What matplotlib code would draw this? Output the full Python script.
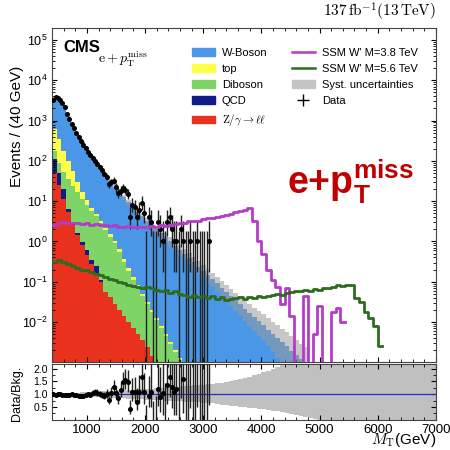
import numpy as np
import matplotlib.pyplot as plt
from matplotlib.patches import Patch
from matplotlib.lines import Line2D

plt.rcParams['font.family'] = 'Liberation Sans'
plt.rcParams['mathtext.fontset'] = 'custom'
plt.rcParams['mathtext.rm'] = 'Liberation Sans'
plt.rcParams['mathtext.it'] = 'Liberation Sans:italic'
plt.rcParams['mathtext.bf'] = 'Liberation Sans:bold'

nan = np.nan

# stacked backgrounds, log10(events / 40 GeV) at the top of each layer, 80 GeV bins from 400 GeV
bkg_start = 400
bkg_step = 80
stack_zll = [1.70, 1.40, 1.05, 0.72, 0.42, 0.16, -0.10, -0.33, -0.56, -0.78, -1.00, -1.20, -1.38, -1.55,
             -1.71, -1.86, -2.00, -2.15, -2.30, -2.45, -2.62, -2.85, -3.10]
stack_qcd = [2.05, 1.70, 1.30, 0.80, 0.45, 0.20, -0.02, -0.22, -0.45, -0.62, -0.95, -1.25, -1.38, -1.55,
             -1.71, -1.86, -2.00, -2.15, -2.30, -2.45, -2.62, -2.85, -3.10]
stack_diboson = [2.25, 1.95, 1.72, 1.55, 1.38, 1.22, 1.05, 0.90, 0.76, 0.62, 0.45, 0.28, 0.12, -0.05,
                 -0.25, -0.50, -0.73, -0.95, -1.15, -1.35, -1.55, -1.75, -1.95, -2.15, -2.35, -2.55,
                 -2.75, -2.95, -3.10]
stack_top = [2.80, 2.55, 2.25, 2.00, 1.75, 1.47, 1.23, 1.02, 0.84, 0.68, 0.51, 0.34, 0.18, 0.01,
             -0.19, -0.44, -0.67, -0.89, -1.09, -1.30, -1.50, -1.70, -1.90, -2.10, -2.30, -2.50,
             -2.70, -2.90, -3.10]
stack_wboson = [3.56, 3.55, 3.36, 3.10, 2.86, 2.65, 2.46, 2.28, 2.11, 1.96, 1.80, 1.64, 1.50, 1.36,
                1.23, 1.10, 0.97, 0.85, 0.73, 0.62, 0.51, 0.40, 0.30, 0.20, 0.10, 0.00, -0.11, -0.21,
                -0.32, -0.42, -0.52, -0.63, -0.73, -0.84, -0.94, -1.04, -1.15, -1.25, -1.36, -1.46,
                -1.56, -1.67, -1.77, -1.88, -1.98, -2.08, -2.19, -2.29, -2.40, -2.50, -2.60, -2.71,
                -2.81, -2.92, -3.02]

# relative systematic uncertainty (up / down), 80 GeV bins from 400 to 7040 GeV
syst_up = [0.04, 0.04, 0.05, 0.05, 0.06, 0.06, 0.07, 0.08, 0.09, 0.10, 0.11, 0.12, 0.13, 0.14,
           0.15, 0.16, 0.17, 0.18, 0.19, 0.20, 0.21, 0.22, 0.23, 0.24, 0.26, 0.27, 0.29, 0.30,
           0.32, 0.33, 0.35, 0.37, 0.38, 0.40, 0.42, 0.44, 0.46, 0.49, 0.52, 0.55, 0.59, 0.63,
           0.68, 0.74, 0.80, 0.86, 0.93, 1.00, 1.07, 1.14, 1.21, 1.28, 1.35, 1.42, 1.50, 1.50,
           1.50, 1.50, 1.50, 1.50, 1.50, 1.50, 1.50, 1.50, 1.50, 1.50, 1.50, 1.50, 1.50, 1.50,
           1.50, 1.50, 1.50, 1.50, 1.50, 1.50, 1.50, 1.50, 1.50, 1.50, 1.50, 1.50, 1.50]
syst_dn = [0.04, 0.04, 0.05, 0.05, 0.06, 0.06, 0.07, 0.08, 0.09, 0.10, 0.11, 0.12, 0.13, 0.14,
           0.15, 0.16, 0.17, 0.18, 0.19, 0.20, 0.21, 0.22, 0.23, 0.24, 0.25, 0.26, 0.27, 0.28,
           0.29, 0.30, 0.31, 0.32, 0.33, 0.34, 0.36, 0.38, 0.40, 0.42, 0.44, 0.46, 0.48, 0.50,
           0.52, 0.54, 0.56, 0.58, 0.61, 0.64, 0.67, 0.70, 0.73, 0.77, 0.81, 0.85, 0.89, 0.93,
           0.97, 1.00, 1.00, 1.00, 1.00, 1.00, 1.00, 1.00, 1.00, 1.00, 1.00, 1.00, 1.00, 1.00,
           1.00, 1.00, 1.00, 1.00, 1.00, 1.00, 1.00, 1.00, 1.00, 1.00, 1.00, 1.00, 1.00]

# signals, log10(events / 40 GeV), 80 GeV bins from 400 GeV (nan = empty bin)
sig_38 = [0.42, 0.46, 0.48, 0.47, 0.45, 0.47, 0.44, 0.45, 0.42, 0.43, 0.40, 0.41, 0.38, 0.40,
          0.37, 0.36, 0.38, 0.35, 0.37, 0.36, 0.35, 0.38, 0.37, 0.40, 0.39, 0.42, 0.44, 0.47,
          0.46, 0.50, 0.52, 0.51, 0.55, 0.58, 0.57, 0.61, 0.63, 0.66, 0.68, 0.72, 0.75, 0.79,
          0.82, 0.50, 0.00, -0.30, -0.70, -0.95, -1.12, -1.55, -1.15, -1.85, nan, nan, -1.35,
          nan, -2.30, -1.60, nan, nan, -1.75, -1.65, -2.00]
sig_56 = [-0.50, -0.47, -0.52, -0.57, -0.60, -0.65, -0.70, -0.72, -0.76, -0.80, -0.84, -0.88,
          -0.92, -0.96, -1.00, -1.04, -1.08, -1.10, -1.13, -1.15, -1.14, -1.16, -1.20, -1.22,
          -1.20, -1.27, -1.24, -1.30, -1.33, -1.37, -1.34, -1.38, -1.35, -1.40, -1.36, -1.42,
          -1.38, -1.45, -1.43, -1.40, -1.38, -1.42, -1.37, -1.40, -1.36, -1.39, -1.35, -1.33,
          -1.30, -1.32, -1.28, -1.25, -1.22, -1.24, -1.20, -1.22, -1.18, -1.20, -1.15, -1.16,
          -1.12, -1.09, -1.10, -1.08, -1.09, -1.40, -1.50, -1.75, -1.90, -2.10, -2.60]

# data: events per 40 GeV bin from 400 GeV, and data / background
data_start = 400
data_step = 40
data_counts = [3300, 3800, 3600, 3300, 2750, 2150, 1500, 1100, 830, 650, 500, 400, 315, 255,
               210, 170, 138, 118, 100, 85, 69, 59, 48, 40, 26, 30, 32, 22, 16, 18,
               21, 19, 15, 4, 8, 7, 4, 6, 9, 5, 0, 4, 3, 0, 0, 3, 2, 1, 0, 3,
               4, 2, 1, 1, 0, 2, 1, 0, 0, 1, 0, 0, 1, 0, 0, 0, 0, 1]
data_ratio = [1.00, 0.98, 1.00, 1.01, 0.99, 0.98, 0.97, 0.99, 1.00, 0.98, 0.96, 0.93, 0.92, 0.95,
              0.97, 1.02, 0.98, 1.05, 1.08, 1.06, 1.00, 0.96, 0.94, 1.02, 0.76, 1.05, 1.28, 1.05,
              0.84, 1.15, 1.48, 1.55, 1.48, 0.44, 1.10, 1.10, 0.70, 1.10, 1.68, 1.10, nan, 0.95,
              1.10, nan, nan, 1.20, 0.90, 1.05, nan, 1.35, 1.68, 1.30, 1.10, 1.20, nan, 2.40,
              1.60, nan, nan, 2.60, nan, nan, 3.00, nan, nan, nan, nan, 3.50]

c_w, c_top, c_vv, c_qcd, c_zll = '#4a97e8', '#ffff4a', '#7fd467', '#101c88', '#e8321e'
c_s38, c_s56 = '#b43cc8', '#2e6b1e'


def to_lin(vals, nb):
    out = np.full(nb, 1e-9)
    arr = 10.0 ** np.array(vals, dtype=float)
    arr[np.isnan(arr)] = 1e-9
    out[:len(arr)] = arr
    return out


def garwood(n):
    n = np.asarray(n, dtype=float)
    up = (n + 1) * (1 - 1 / (9 * (n + 1)) + 1 / (3 * np.sqrt(n + 1))) ** 3
    safe = np.where(n > 0, n, 1)
    lo = np.where(n > 0, safe * (1 - 1 / (9 * safe) - 1 / (3 * np.sqrt(safe))) ** 3, 0)
    return lo, up


fig = plt.figure(figsize=(4.5, 4.5), dpi=100)
ax = fig.add_axes([0.1156, 0.196, 0.853, 0.742])
rax = fig.add_axes([0.1156, 0.067, 0.853, 0.125])

nb = len(stack_wboson)
edges = bkg_start + bkg_step * np.arange(nb + 1)
layers = [(stack_zll, c_zll), (stack_qcd, c_qcd), (stack_diboson, c_vv),
          (stack_top, c_top), (stack_wboson, c_w)]
prev = np.full(nb, 1e-9)
for vals, col in layers:
    cur = to_lin(vals, nb)
    ax.fill_between(edges, np.append(prev, prev[-1]), np.append(cur, cur[-1]),
                    step='post', color=col, lw=0, zorder=1)
    prev = cur
total = prev
su = np.array(syst_up[:nb])
sd = np.array(syst_dn[:nb])
hi = total * (1 + su)
lo = np.clip(total * (1 - sd), 1e-9, None)
ax.fill_between(edges, np.append(lo, lo[-1]), np.append(hi, hi[-1]), step='post',
                color='#9a9a9a', alpha=0.55, lw=0, zorder=2)

# data
counts = np.array(data_counts, dtype=float)
xd = data_start + data_step * (np.arange(len(counts)) + 0.5)
elo, eup = garwood(counts)
nz = counts > 0
ax.errorbar(xd[nz], counts[nz], yerr=[counts[nz] - elo[nz], eup[nz] - counts[nz]],
            fmt='o', ms=2.6, color='black', ecolor='#222222', elinewidth=1.0, capsize=0, zorder=4)
ax.vlines(xd[~nz], 1e-9, eup[~nz], color='#222222', lw=1.0, zorder=4)

# signals
for vals, col in [(sig_38, c_s38), (sig_56, c_s56)]:
    v = to_lin(vals, len(vals))
    e = bkg_start + bkg_step * np.arange(len(v) + 1)
    ax.step(e, np.append(v, v[-1]), where='post', color=col, lw=2.0, zorder=5)

ax.set_yscale('log')
ax.set_xlim(400, 7000)
ax.set_ylim(1.03e-3, 2e5)
ax.set_ylabel('Events / (40 GeV)', fontsize=11)
ax.yaxis.set_label_coords(-0.072, 0.705)
ax.tick_params(axis='both', which='both', direction='in', top=True, right=True, labelsize=9)
ax.tick_params(axis='x', labelbottom=False)
ax.set_xticks(np.arange(1000, 7001, 1000))
ax.set_xticks(np.arange(400, 7001, 200), minor=True)

ax.text(0.03, 0.94, 'CMS', transform=ax.transAxes, fontsize=12, fontweight='bold', va='center')
ax.text(0.12, 0.905, r'$\mathrm{e}+p_{\mathrm{T}}^{\mathrm{miss}}$', transform=ax.transAxes,
        fontsize=10, va='center', math_fontfamily='cm')
ax.text(1.0, 1.015, r'$137\,\mathrm{fb}^{-1}(13\,\mathrm{TeV})$', transform=ax.transAxes,
        fontsize=11, ha='right', va='bottom', math_fontfamily='cm')
ax.text(0.776, 0.54, r'$\mathbf{e{+}p_{T}^{miss}}$', transform=ax.transAxes, fontsize=27,
        color='#c00000', ha='center', va='center')

handles = [Patch(color=c_w), Patch(color=c_top), Patch(color=c_vv), Patch(color=c_qcd),
           Patch(color=c_zll), Line2D([], [], color=c_s38, lw=1.8),
           Line2D([], [], color=c_s56, lw=1.8), Patch(color='#c4c4c4'),
           Line2D([], [], color='black', marker='+', ms=9, ls='none')]
labels = ['W-Boson', 'top', 'Diboson', 'QCD', r'$\mathrm{Z}/\gamma\rightarrow\ell\ell$',
          "SSM W' M=3.8 TeV", "SSM W' M=5.6 TeV", 'Syst. uncertainties', 'Data']
leg = ax.legend(handles, labels, ncol=2, loc='upper left', bbox_to_anchor=(0.338, 0.97),
                frameon=False, fontsize=8, handlelength=2.1, handletextpad=0.6,
                columnspacing=2.2, labelspacing=0.55)
leg.get_texts()[4].set_math_fontfamily('cm')

# ratio panel
nr = len(syst_up)
redges = bkg_start + bkg_step * np.arange(nr + 1)
rup = 1 + np.array(syst_up)
rdn = 1 - np.array(syst_dn)
rax.fill_between(redges, np.append(rdn, rdn[-1]), np.append(rup, rup[-1]), step='post',
                 color='#c0c0c0', lw=0, zorder=1)
rax.axhline(1.0, color='#2233bb', lw=0.9, zorder=2)
ratio = np.array(data_ratio, dtype=float)
ok = ~np.isnan(ratio)
with np.errstate(divide='ignore', invalid='ignore'):
    r_lo = ratio * (counts - elo) / counts
    r_up = ratio * (eup - counts) / counts
rax.errorbar(xd[ok], ratio[ok], yerr=[r_lo[ok], r_up[ok]], fmt='o', ms=2.6, color='black',
             ecolor='#222222', elinewidth=1.0, capsize=0, zorder=4)
bk = 10.0 ** np.array(stack_wboson)[((xd - bkg_start) // bkg_step).astype(int)]
rax.vlines(xd[~ok], 0, eup[~ok] / bk[~ok], color='#222222', lw=1.0, zorder=4)
rax.set_xlim(400, 7000)
rax.set_ylim(0, 2.2)
rax.set_yticks([0.5, 1.0, 1.5, 2.0])
rax.set_yticklabels(['0.5', '1.0', '1.5', '2.0'])
rax.set_xticks(np.arange(1000, 7001, 1000))
rax.set_xticks(np.arange(400, 7001, 200), minor=True)
rax.set_yticks([0.25, 0.75, 1.25, 1.75], minor=True)
rax.tick_params(axis='both', which='both', direction='in', top=True, right=True)
rax.tick_params(axis='x', labelsize=9.5, pad=3)
rax.tick_params(axis='y', labelsize=7.5, pad=3)
rax.set_ylabel('Data/Bkg.', fontsize=9)
rax.yaxis.set_label_coords(-0.076, 0.47)
rax.set_xlabel(r'$M_{\mathrm{T}}$(GeV)', fontsize=11, math_fontfamily='cm', ha='right')
rax.xaxis.set_label_coords(1.0, -0.2)

for a in (ax, rax):
    for s in a.spines.values():
        s.set_color('#444444')
        s.set_linewidth(0.8)

fig.savefig('out.png', dpi=100)
